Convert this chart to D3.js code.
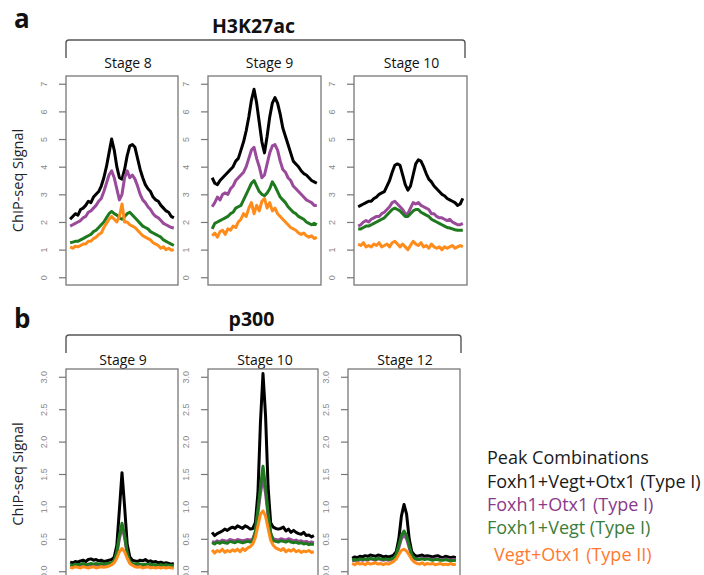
<!DOCTYPE html>
<html>
<head>
<meta charset="utf-8">
<script src="https://cdn.jsdelivr.net/npm/d3@7"></script>
<style>
  body { margin: 0; background: #fff; }
  svg { font-family: "Open Sans", "Noto Sans", sans-serif; }
</style>
</head>
<body>
<svg id="chart" width="704" height="575"></svg>
<script>
// ---- data, 41 positions across each peak window ----
const seriesNames = ["Foxh1+Vegt+Otx1 (Type I)", "Foxh1+Otx1 (Type I)", "Foxh1+Vegt (Type I)", "Vegt+Otx1 (Type II)"];
const lineColors = ["#000000", "#9a4a9a", "#1f7a1f", "#ff8c1a"];
const legendColors = ["#1a1a1a", "#8b3a8b", "#3b7d3b", "#ff7a30"];

const h3TickLabels = [0, 1, 2, 3, 4, 5, 6, 7];
const p300TickLabels = [0, 0.5, 1, 1.5, 2, 2.5, 3];

// H3K27ac, stage 8
const h3St8_fvo = [2.1, 2.2, 2.3, 2.25, 2.45, 2.5, 2.6, 2.75, 2.7, 2.9, 3.0, 3.1, 3.3, 3.6, 4.0, 4.5, 5.0, 4.6, 4.0, 3.6, 3.55, 3.9, 4.4, 4.75, 4.8, 4.7, 4.3, 3.9, 3.6, 3.35, 3.2, 3.1, 2.9, 2.8, 2.75, 2.6, 2.5, 2.4, 2.35, 2.2, 2.15];
const h3St8_fo = [1.85, 1.9, 1.95, 2.0, 2.05, 2.15, 2.2, 2.35, 2.4, 2.5, 2.6, 2.75, 2.85, 3.1, 3.4, 3.7, 3.85, 3.6, 3.2, 2.8, 3.0, 3.6, 3.85, 3.6, 3.7, 3.55, 3.3, 3.0, 2.8, 2.7, 2.55, 2.45, 2.3, 2.2, 2.15, 2.05, 1.95, 1.9, 1.85, 1.8, 1.78];
const h3St8_fv = [1.25, 1.27, 1.3, 1.3, 1.35, 1.4, 1.45, 1.5, 1.55, 1.65, 1.7, 1.8, 1.9, 2.0, 2.15, 2.3, 2.38, 2.3, 2.25, 2.15, 2.1, 2.2, 2.3, 2.35, 2.25, 2.15, 2.05, 1.95, 1.85, 1.8, 1.75, 1.65, 1.6, 1.55, 1.5, 1.45, 1.35, 1.3, 1.25, 1.2, 1.15];
const h3St8_vo = [1.1, 1.05, 1.12, 1.1, 1.15, 1.2, 1.2, 1.3, 1.3, 1.4, 1.45, 1.55, 1.6, 1.8, 1.95, 2.1, 2.2, 2.1, 2.0, 2.2, 2.65, 2.0, 2.0, 1.9, 1.85, 1.8, 1.7, 1.6, 1.5, 1.45, 1.4, 1.35, 1.25, 1.2, 1.15, 1.05, 1.1, 1.0, 1.05, 0.98, 1.0];

// H3K27ac, stage 9
const h3St9_fvo = [3.6, 3.4, 3.35, 3.5, 3.6, 3.7, 3.8, 3.9, 4.0, 4.2, 4.3, 4.6, 4.9, 5.3, 5.8, 6.4, 6.8, 6.3, 5.6, 4.9, 4.5, 5.1, 5.8, 6.3, 6.5, 6.3, 5.9, 5.4, 5.1, 4.8, 4.5, 4.2, 4.1, 4.0, 3.85, 3.75, 3.7, 3.6, 3.5, 3.45, 3.4];
const h3St9_fo = [2.55, 2.7, 2.9, 2.8, 3.0, 3.05, 3.0, 3.2, 3.3, 3.5, 3.6, 3.7, 3.8, 4.0, 4.3, 4.6, 4.7, 4.3, 4.0, 3.6, 3.7, 4.1, 4.5, 4.75, 4.8, 4.6, 4.2, 3.9, 3.8, 3.6, 3.5, 3.3, 3.2, 3.1, 3.0, 2.9, 2.8, 2.75, 2.7, 2.6, 2.6];
const h3St9_fv = [1.75, 1.95, 2.0, 2.05, 2.1, 2.15, 2.2, 2.3, 2.35, 2.5, 2.55, 2.6, 2.8, 3.0, 3.2, 3.4, 3.5, 3.3, 3.1, 3.0, 2.95, 3.05, 3.2, 3.45, 3.3, 3.1, 2.9, 2.8, 2.7, 2.55, 2.45, 2.35, 2.3, 2.2, 2.15, 2.1, 2.0, 1.95, 1.9, 1.95, 1.9];
const h3St9_vo = [1.5, 1.6, 1.45, 1.65, 1.7, 1.55, 1.75, 1.7, 1.85, 1.8, 2.0, 2.1, 2.3, 2.2, 2.5, 2.7, 2.3, 2.6, 2.4, 2.75, 2.85, 2.5, 2.7, 2.4, 2.5, 2.3, 2.2, 2.1, 2.0, 1.9, 1.8, 1.75, 1.7, 1.6, 1.55, 1.6, 1.5, 1.45, 1.5, 1.4, 1.45];

// H3K27ac, stage 10
const h3St10_fvo = [2.55, 2.6, 2.65, 2.7, 2.75, 2.75, 2.85, 2.9, 3.0, 3.05, 3.1, 3.3, 3.5, 3.8, 4.05, 4.1, 4.05, 3.7, 3.35, 3.15, 3.3, 3.7, 4.1, 4.25, 4.2, 4.0, 3.75, 3.55, 3.45, 3.3, 3.2, 3.1, 3.0, 2.95, 2.85, 2.8, 2.75, 2.7, 2.6, 2.65, 2.85];
const h3St10_fo = [1.85, 1.9, 2.0, 2.05, 2.0, 2.1, 2.15, 2.2, 2.2, 2.3, 2.35, 2.45, 2.55, 2.7, 2.75, 2.65, 2.55, 2.45, 2.3, 2.3, 2.5, 2.7, 2.65, 2.7, 2.6, 2.55, 2.5, 2.45, 2.3, 2.3, 2.2, 2.15, 2.15, 2.1, 2.05, 2.1, 2.0, 1.95, 1.9, 1.9, 1.95];
const h3St10_fv = [1.75, 1.75, 1.8, 1.85, 1.85, 1.9, 1.95, 2.0, 2.05, 2.1, 2.15, 2.25, 2.35, 2.45, 2.5, 2.45, 2.4, 2.3, 2.2, 2.2, 2.3, 2.4, 2.45, 2.45, 2.35, 2.3, 2.25, 2.2, 2.1, 2.05, 2.0, 1.95, 1.9, 1.85, 1.8, 1.78, 1.75, 1.72, 1.7, 1.7, 1.7];
const h3St10_vo = [1.2, 1.15, 1.25, 1.1, 1.15, 1.1, 1.2, 1.15, 1.25, 1.1, 1.15, 1.2, 1.1, 1.25, 1.3, 1.2, 1.1, 1.2, 1.1, 1.0, 1.15, 1.3, 1.2, 1.15, 1.25, 1.1, 1.15, 1.05, 1.2, 1.1, 1.05, 1.1, 1.0, 1.1, 1.05, 1.1, 1.15, 1.05, 1.1, 1.15, 1.1];

// p300, stage 9
const p3St9_fvo = [0.14, 0.13, 0.15, 0.14, 0.16, 0.17, 0.15, 0.18, 0.19, 0.17, 0.18, 0.16, 0.17, 0.15, 0.16, 0.17, 0.18, 0.22, 0.4, 0.95, 1.52, 1.0, 0.42, 0.22, 0.17, 0.16, 0.15, 0.17, 0.16, 0.18, 0.15, 0.16, 0.14, 0.15, 0.13, 0.14, 0.12, 0.13, 0.12, 0.11, 0.12];
const p3St9_fo = [0.08, 0.07, 0.09, 0.08, 0.09, 0.1, 0.08, 0.09, 0.1, 0.09, 0.1, 0.09, 0.1, 0.09, 0.1, 0.1, 0.11, 0.14, 0.26, 0.5, 0.68, 0.52, 0.26, 0.13, 0.1, 0.09, 0.1, 0.09, 0.08, 0.09, 0.08, 0.09, 0.08, 0.08, 0.07, 0.08, 0.07, 0.08, 0.07, 0.07, 0.07];
const p3St9_fv = [0.1, 0.09, 0.11, 0.1, 0.11, 0.12, 0.1, 0.11, 0.12, 0.11, 0.12, 0.11, 0.12, 0.11, 0.12, 0.12, 0.13, 0.16, 0.3, 0.55, 0.74, 0.56, 0.28, 0.15, 0.12, 0.11, 0.12, 0.11, 0.1, 0.11, 0.1, 0.11, 0.1, 0.1, 0.09, 0.1, 0.09, 0.1, 0.09, 0.09, 0.09];
const p3St9_vo = [0.06, 0.05, 0.07, 0.06, 0.05, 0.07, 0.06, 0.05, 0.06, 0.07, 0.05, 0.06, 0.07, 0.06, 0.07, 0.08, 0.1, 0.13, 0.2, 0.3, 0.35, 0.3, 0.2, 0.12, 0.09, 0.07, 0.06, 0.07, 0.05, 0.06, 0.07, 0.05, 0.06, 0.05, 0.06, 0.05, 0.06, 0.05, 0.06, 0.05, 0.05];

// p300, stage 10
const p3St10_fvo = [0.6, 0.55, 0.58, 0.6, 0.62, 0.65, 0.63, 0.66, 0.68, 0.66, 0.7, 0.68, 0.66, 0.7, 0.68, 0.65, 0.66, 0.75, 1.2, 2.3, 3.05, 2.4, 1.3, 0.75, 0.68, 0.66, 0.65, 0.66, 0.68, 0.62, 0.65, 0.6, 0.63, 0.6, 0.58, 0.57, 0.6, 0.55, 0.56, 0.53, 0.55];
const p3St10_fo = [0.46, 0.44, 0.47, 0.45, 0.48, 0.47, 0.46, 0.49, 0.48, 0.47, 0.49, 0.48, 0.47, 0.48, 0.49, 0.48, 0.5, 0.6, 0.9, 1.2, 1.45, 1.2, 0.85, 0.58, 0.5, 0.49, 0.48, 0.5, 0.49, 0.48, 0.5, 0.49, 0.47, 0.48, 0.46, 0.47, 0.45, 0.46, 0.44, 0.45, 0.44];
const p3St10_fv = [0.44, 0.42, 0.45, 0.43, 0.45, 0.44, 0.43, 0.46, 0.45, 0.44, 0.46, 0.45, 0.44, 0.45, 0.46, 0.45, 0.47, 0.62, 0.95, 1.3, 1.62, 1.3, 0.9, 0.6, 0.47, 0.46, 0.45, 0.47, 0.46, 0.45, 0.47, 0.45, 0.44, 0.45, 0.43, 0.44, 0.42, 0.43, 0.41, 0.42, 0.41];
const p3St10_vo = [0.33, 0.28, 0.32, 0.3, 0.34, 0.29, 0.32, 0.3, 0.33, 0.31, 0.34, 0.3, 0.35, 0.32, 0.36, 0.38, 0.42, 0.52, 0.7, 0.88, 0.93, 0.85, 0.66, 0.48, 0.4, 0.36, 0.34, 0.32, 0.35, 0.3, 0.33, 0.31, 0.34, 0.3, 0.32, 0.29, 0.31, 0.3, 0.32, 0.29, 0.3];

// p300, stage 12
const p3St12_fvo = [0.2, 0.22, 0.21, 0.23, 0.22, 0.24, 0.23, 0.25, 0.24, 0.23, 0.25, 0.24, 0.22, 0.23, 0.22, 0.23, 0.25, 0.3, 0.5, 0.85, 1.03, 0.88, 0.5, 0.3, 0.25, 0.23, 0.24, 0.25, 0.23, 0.24, 0.23, 0.22, 0.23, 0.24, 0.22, 0.21, 0.23, 0.22, 0.21, 0.22, 0.21];
const p3St12_fo = [0.16, 0.17, 0.16, 0.18, 0.17, 0.18, 0.17, 0.19, 0.18, 0.17, 0.19, 0.18, 0.17, 0.18, 0.17, 0.18, 0.19, 0.24, 0.36, 0.5, 0.56, 0.5, 0.36, 0.23, 0.19, 0.18, 0.19, 0.2, 0.19, 0.2, 0.19, 0.18, 0.19, 0.19, 0.18, 0.18, 0.19, 0.18, 0.17, 0.18, 0.17];
const p3St12_fv = [0.17, 0.18, 0.17, 0.19, 0.18, 0.19, 0.18, 0.2, 0.19, 0.18, 0.2, 0.19, 0.18, 0.19, 0.18, 0.19, 0.2, 0.26, 0.4, 0.55, 0.62, 0.55, 0.4, 0.25, 0.2, 0.19, 0.18, 0.19, 0.18, 0.19, 0.18, 0.17, 0.18, 0.18, 0.17, 0.17, 0.18, 0.17, 0.16, 0.17, 0.16];
const p3St12_vo = [0.12, 0.1, 0.13, 0.11, 0.12, 0.1, 0.13, 0.11, 0.12, 0.13, 0.11, 0.12, 0.1, 0.12, 0.11, 0.13, 0.15, 0.19, 0.26, 0.32, 0.34, 0.31, 0.25, 0.18, 0.14, 0.12, 0.11, 0.13, 0.1, 0.12, 0.11, 0.12, 0.1, 0.11, 0.12, 0.1, 0.11, 0.1, 0.12, 0.1, 0.11];

// ---- layout ----
const svg = d3.select("#chart");
const nPts = h3St8_fvo.length;

const rows = [
  {
    letter: "a", title: "H3K27ac", letterY: 28, titleY: 33, bracketY: 40, bracketBottom: 58,
    bracketX: [66, 465], boxTop: 76, boxBottom: 285, stageY: 68,
    domain: [0, 7], ticks: h3TickLabels, fmt: d3.format("d"),
    panels: [
      { stage: "Stage 8", x0: 66, x1: 178, lab: 6, data: [h3St8_fvo, h3St8_fo, h3St8_fv, h3St8_vo] },
      { stage: "Stage 9", x0: 208, x1: 321, lab: 5, data: [h3St9_fvo, h3St9_fo, h3St9_fv, h3St9_vo] },
      { stage: "Stage 10", x0: 354, x1: 467, lab: 1, data: [h3St10_fvo, h3St10_fo, h3St10_fv, h3St10_vo] }
    ]
  },
  {
    letter: "b", title: "p300", letterY: 328, titleY: 326, bracketY: 335, bracketBottom: 353,
    bracketX: [66, 461], boxTop: 369, boxBottom: 579, stageY: 365,
    domain: [0, 3], ticks: p300TickLabels, fmt: d3.format(".1f"),
    panels: [
      { stage: "Stage 9", x0: 66, x1: 178, lab: 1, data: [p3St9_fvo, p3St9_fo, p3St9_fv, p3St9_vo] },
      { stage: "Stage 10", x0: 208, x1: 318, lab: 2, data: [p3St10_fvo, p3St10_fo, p3St10_fv, p3St10_vo] },
      { stage: "Stage 12", x0: 348, x1: 460, lab: 1, data: [p3St12_fvo, p3St12_fo, p3St12_fv, p3St12_vo] }
    ]
  }
];

rows.forEach(row => {
  // panel letter and mark title
  svg.append("text").attr("x", 14).attr("y", row.letterY)
    .attr("font-size", 26).attr("font-weight", "bold").attr("fill", "#111").text(row.letter);
  svg.append("text").attr("x", (row.bracketX[0] + row.bracketX[1]) / 2 - 12).attr("y", row.titleY)
    .attr("text-anchor", "middle").attr("font-size", 19.5).attr("font-weight", "bold")
    .attr("fill", "#111").text(row.title);

  // bracket over the three panels
  const [bx0, bx1] = row.bracketX;
  const by = row.bracketY, bb = row.bracketBottom;
  svg.append("path")
    .attr("d", `M${bx0},${bb} L${bx0},${by + 3} Q${bx0},${by} ${bx0 + 3},${by} L${bx1 - 3},${by} Q${bx1},${by} ${bx1},${by + 3} L${bx1},${bb}`)
    .attr("fill", "none").attr("stroke", "#555").attr("stroke-width", 1.4);

  // y label
  const midY = (row.boxTop + row.boxBottom) / 2;
  svg.append("text").attr("transform", `translate(23,${midY}) rotate(-90)`)
    .attr("text-anchor", "middle").attr("font-size", 14.5).attr("fill", "#222").text("ChIP-seq Signal");

  const pad = (row.domain[1] - row.domain[0]) * 0.04;
  const y = d3.scaleLinear().domain([row.domain[0] - pad, row.domain[1] + pad])
    .range([row.boxBottom, row.boxTop]);

  row.panels.forEach(p => {
    const xPad = (nPts - 1) * 0.04;
    const x = d3.scaleLinear().domain([-xPad, nPts - 1 + xPad]).range([p.x0, p.x1]);

    svg.append("text").attr("x", (p.x0 + p.x1) / 2 + p.lab).attr("y", row.stageY)
      .attr("text-anchor", "middle").attr("font-size", 14).attr("fill", "#111").text(p.stage);

    // axis with R-style rotated labels
    const ax = svg.append("g").attr("transform", `translate(${p.x0},0)`)
      .call(d3.axisLeft(y).tickValues(row.ticks).tickSize(7).tickFormat(row.fmt));
    ax.select(".domain").remove();
    ax.selectAll(".tick line").attr("stroke", "#777").attr("stroke-width", 1.2);
    ax.selectAll(".tick text")
      .attr("x", null).attr("dy", null)
      .attr("transform", "translate(-19,0) rotate(-90)")
      .attr("text-anchor", "middle")
      .attr("font-size", 9).attr("fill", "#888")
      .attr("font-family", "'Liberation Sans', Arial, sans-serif");

    const line = d3.line().x((d, i) => x(i)).y(d => y(d));
    p.data.forEach((vals, k) => {
      svg.append("path").datum(vals)
        .attr("d", line)
        .attr("fill", "none")
        .attr("stroke", lineColors[k])
        .attr("stroke-width", 3)
        .attr("stroke-linejoin", "round");
    });

    // box
    svg.append("rect").attr("x", p.x0).attr("y", row.boxTop)
      .attr("width", p.x1 - p.x0).attr("height", row.boxBottom - row.boxTop)
      .attr("fill", "none").attr("stroke", "#777").attr("stroke-width", 1.3);
  });
});

// legend
const legendY = [488, 511, 534, 561];
const legendX = [487, 487, 487, 494];
svg.append("text").attr("x", 487).attr("y", 464).attr("font-size", 18).attr("fill", "#1a1a1a")
  .text("Peak Combinations");
seriesNames.forEach((name, i) => {
  svg.append("text").attr("x", legendX[i]).attr("y", legendY[i])
    .attr("font-size", 18).attr("fill", legendColors[i]).text(name);
});
</script>
</body>
</html>
